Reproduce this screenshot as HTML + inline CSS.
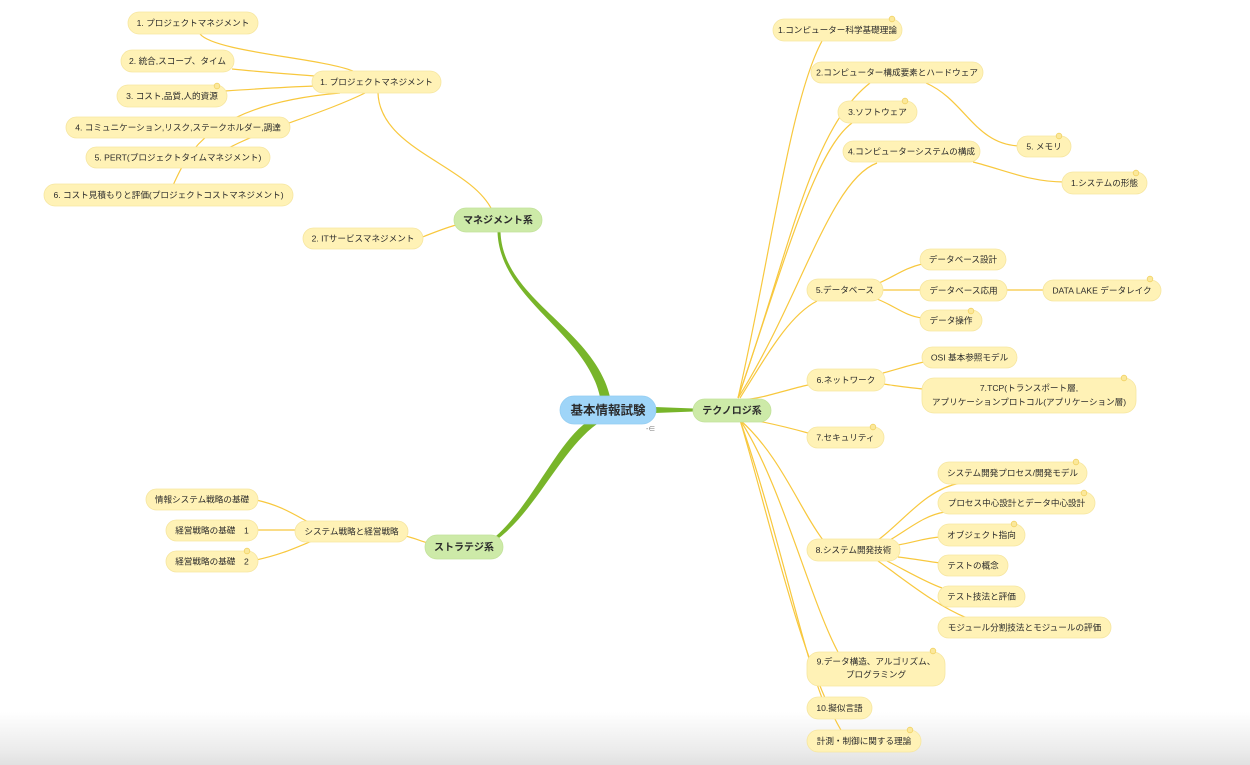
<!DOCTYPE html>
<html><head><meta charset="utf-8">
<style>
html,body{margin:0;padding:0;background:#fff;}
#wrap{position:relative;width:1250px;height:765px;overflow:hidden;background:#fff;}
#grad{position:absolute;left:0;top:712px;width:1250px;height:53px;background:linear-gradient(to bottom,rgba(255,255,255,0) 0%,#ececec 70%,#e1e1e1 100%);}
svg{position:absolute;left:0;top:0;}
text{font-family:"Liberation Sans","Noto Sans CJK JP",sans-serif;fill:#2b2b2b;}
.t{font-size:8.6px;}
.g{font-size:10px;font-weight:bold;}
.y{fill:#fff2b6;stroke:#f6e6a0;stroke-width:0.8;}
.gr{fill:#cdeaa8;stroke:#c2e29a;stroke-width:0.8;}
.l{fill:none;stroke:#f8c83e;stroke-width:1.2;}
.d{fill:#fbe89b;stroke:#f1d264;stroke-width:0.8;}
</style></head>
<body><div id="wrap">
<div id="grad"></div>
<svg width="1250" height="765" viewBox="0 0 1250 765" xmlns="http://www.w3.org/2000/svg">
<!-- green main connectors (tapered) -->
<path d="M497.5,232 C500,300 586,332 600,397 L610,397 C594,328 503,300 500.5,232 Z" fill="#78b52a"/>
<path d="M587,422 C557,443 533,503 496,536 L499,538 C537,508 562,449 597,424 Z" fill="#78b52a"/>
<path d="M655,407 L694,408.5 L694,411.5 L655,413 Z" fill="#78b52a"/>

<!-- yellow connectors : management -->
<path class="l" d="M200,34 C215,52 320,58 353,71"/>
<path class="l" d="M232,69 C260,72 290,74 315,76"/>
<path class="l" d="M225,91 C255,89 285,87 315,86"/>
<path class="l" d="M340,93 C200,105 185,160 170,192"/>
<path class="l" d="M365,93 C320,115 260,130 225,150"/>
<path class="l" d="M378,93 C380,150 470,165 492,210"/>
<path class="l" d="M420,238 C435,232 445,228 456,225"/>
<!-- strategy -->
<path class="l" d="M256,500 C280,505 295,515 310,523"/>
<path class="l" d="M256,530 L297,530"/>
<path class="l" d="M256,560 C280,555 295,548 312,541"/>
<path class="l" d="M405,536 C415,538 420,541 428,543"/>
<!-- technology fan -->
<path class="l" d="M738,398 C770,260 790,100 822,41"/>
<path class="l" d="M738,398 C790,250 810,130 870,83"/>
<path class="l" d="M738,398 C785,260 815,150 852,123"/>
<path class="l" d="M738,398 C800,300 830,180 877,163"/>
<path class="l" d="M740,398 C770,350 790,315 817,301"/>
<path class="l" d="M742,400 C765,398 785,390 808,385"/>
<path class="l" d="M742,418 C765,422 790,428 808,433"/>
<path class="l" d="M740,420 C780,455 800,510 823,540"/>
<path class="l" d="M740,420 C780,480 810,600 838,652"/>
<path class="l" d="M740,420 C775,520 800,640 822,698"/>
<path class="l" d="M740,420 C770,520 800,660 842,732"/>
<!-- tech sub -->
<path class="l" d="M926,83 C965,100 975,145 1020,146"/>
<path class="l" d="M973,162 C1005,170 1030,182 1064,182"/>
<path class="l" d="M879,283 C895,276 905,268 922,264"/>
<path class="l" d="M883,290 L922,290"/>
<path class="l" d="M1005,290 L1045,290"/>
<path class="l" d="M877,299 C895,306 905,316 922,318"/>
<path class="l" d="M883,373 C898,369 910,365 924,362"/>
<path class="l" d="M883,384 C898,386 910,388 924,389"/>
<path class="l" d="M878,540 C905,520 925,490 960,483"/>
<path class="l" d="M890,540 C910,528 925,515 945,512"/>
<path class="l" d="M898,545 C915,542 925,538 940,537"/>
<path class="l" d="M898,557 C915,559 925,561 940,563"/>
<path class="l" d="M887,561 C905,570 925,582 942,588"/>
<path class="l" d="M878,561 C905,580 935,605 967,618"/>

<!-- central -->
<rect x="560" y="396" width="96" height="28" rx="14" fill="#9fd5f8" stroke="#93cdf2" stroke-width="0.8"/>
<text x="608" y="414.5" text-anchor="middle" style="font-size:12.5px;font-weight:bold;">基本情報試験</text>
<text x="646" y="431" style="font-size:7px;fill:#777;">-∈</text>

<!-- green -->
<rect class="gr" x="454" y="208" width="88" height="24" rx="12"/>
<text class="g" x="498" y="223.5" text-anchor="middle">マネジメント系</text>
<rect class="gr" x="425" y="535" width="78" height="24" rx="12"/>
<text class="g" x="464" y="550.5" text-anchor="middle">ストラテジ系</text>
<rect class="gr" x="693" y="399" width="78" height="23" rx="11.5"/>
<text class="g" x="732" y="414" text-anchor="middle">テクノロジ系</text>

<!-- management nodes -->
<rect class="y" x="128" y="12" width="130" height="22" rx="11"/>
<text class="t" x="193" y="26" text-anchor="middle">1. プロジェクトマネジメント</text>
<rect class="y" x="121" y="50" width="113" height="22" rx="11"/>
<text class="t" x="177.5" y="64" text-anchor="middle">2. 統合,スコープ、タイム</text>
<rect class="y" x="117" y="85" width="110" height="22" rx="11"/>
<text class="t" x="172" y="99" text-anchor="middle">3. コスト,品質,人的資源</text>
<circle class="d" cx="217" cy="86" r="2.8"/>
<rect class="y" x="66" y="117" width="224" height="21" rx="10.5"/>
<text class="t" x="178" y="130.5" text-anchor="middle">4. コミュニケーション,リスク,ステークホルダー,調達</text>
<rect class="y" x="86" y="147" width="184" height="21" rx="10.5"/>
<text class="t" x="178" y="160.5" text-anchor="middle">5. PERT(プロジェクトタイムマネジメント)</text>
<rect class="y" x="44" y="184" width="249" height="22" rx="11"/>
<text class="t" x="168.5" y="198" text-anchor="middle">6. コスト見積もりと評価(プロジェクトコストマネジメント)</text>
<rect class="y" x="312" y="71" width="129" height="22" rx="11"/>
<text class="t" x="376.5" y="85" text-anchor="middle">1. プロジェクトマネジメント</text>
<rect class="y" x="303" y="228" width="120" height="21" rx="10.5"/>
<text class="t" x="363" y="241.5" text-anchor="middle">2. ITサービスマネジメント</text>

<!-- strategy nodes -->
<rect class="y" x="146" y="489" width="112" height="21" rx="10.5"/>
<text class="t" x="202" y="502.5" text-anchor="middle">情報システム戦略の基礎</text>
<rect class="y" x="166" y="520" width="92" height="21" rx="10.5"/>
<text class="t" x="212" y="533.5" text-anchor="middle">経営戦略の基礎　1</text>
<rect class="y" x="166" y="551" width="92" height="21" rx="10.5"/>
<text class="t" x="212" y="564.5" text-anchor="middle">経営戦略の基礎　2</text>
<circle class="d" cx="247" cy="551" r="2.8"/>
<rect class="y" x="295" y="521" width="113" height="21" rx="10.5"/>
<text class="t" x="351.5" y="534.5" text-anchor="middle">システム戦略と経営戦略</text>

<!-- technology nodes -->
<rect class="y" x="773" y="19" width="129" height="22" rx="11"/>
<text class="t" x="837.5" y="33" text-anchor="middle">1.コンピューター科学基礎理論</text>
<circle class="d" cx="892" cy="19" r="2.8"/>
<rect class="y" x="811" y="62" width="172" height="21" rx="10.5"/>
<text class="t" x="897" y="75.5" text-anchor="middle">2.コンピューター構成要素とハードウェア</text>
<rect class="y" x="838" y="101" width="79" height="22" rx="11"/>
<text class="t" x="877.5" y="115" text-anchor="middle">3.ソフトウェア</text>
<circle class="d" cx="905" cy="101" r="2.8"/>
<rect class="y" x="843" y="141" width="137" height="21" rx="10.5"/>
<text class="t" x="911.5" y="154.5" text-anchor="middle">4.コンピューターシステムの構成</text>
<rect class="y" x="1017" y="136" width="54" height="21" rx="10.5"/>
<text class="t" x="1044" y="149.5" text-anchor="middle">5. メモリ</text>
<circle class="d" cx="1059" cy="136" r="2.8"/>
<rect class="y" x="1062" y="172" width="85" height="22" rx="11"/>
<text class="t" x="1104.5" y="186" text-anchor="middle">1.システムの形態</text>
<circle class="d" cx="1136" cy="173" r="2.8"/>

<rect class="y" x="807" y="279" width="76" height="22" rx="11"/>
<text class="t" x="845" y="293" text-anchor="middle">5.データベース</text>
<rect class="y" x="920" y="249" width="86" height="21" rx="10.5"/>
<text class="t" x="963" y="262.5" text-anchor="middle">データベース設計</text>
<rect class="y" x="920" y="280" width="87" height="21" rx="10.5"/>
<text class="t" x="963.5" y="293.5" text-anchor="middle">データベース応用</text>
<rect class="y" x="1043" y="280" width="118" height="21" rx="10.5"/>
<text class="t" x="1102" y="293.5" text-anchor="middle">DATA LAKE データレイク</text>
<circle class="d" cx="1150" cy="279" r="2.8"/>
<rect class="y" x="920" y="310" width="62" height="21" rx="10.5"/>
<text class="t" x="951" y="323.5" text-anchor="middle">データ操作</text>
<circle class="d" cx="971" cy="311" r="2.8"/>

<rect class="y" x="807" y="369" width="78" height="22" rx="11"/>
<text class="t" x="846" y="383" text-anchor="middle">6.ネットワーク</text>
<rect class="y" x="922" y="347" width="95" height="21" rx="10.5"/>
<text class="t" x="969.5" y="360.5" text-anchor="middle">OSI 基本参照モデル</text>
<rect class="y" x="922" y="378" width="214" height="35" rx="12"/>
<text class="t" x="1029" y="391" text-anchor="middle">7.TCP(トランスポート層,</text>
<text class="t" x="1029" y="405" text-anchor="middle">アプリケーションプロトコル(アプリケーション層)</text>
<circle class="d" cx="1124" cy="378" r="2.8"/>

<rect class="y" x="807" y="427" width="77" height="21" rx="10.5"/>
<text class="t" x="845.5" y="440.5" text-anchor="middle">7.セキュリティ</text>
<circle class="d" cx="873" cy="427" r="2.8"/>

<rect class="y" x="807" y="539" width="93" height="22" rx="11"/>
<text class="t" x="853.5" y="553" text-anchor="middle">8.システム開発技術</text>
<rect class="y" x="938" y="462" width="149" height="22" rx="11"/>
<text class="t" x="1012.5" y="476" text-anchor="middle">システム開発プロセス/開発モデル</text>
<circle class="d" cx="1076" cy="462" r="2.8"/>
<rect class="y" x="938" y="492" width="157" height="22" rx="11"/>
<text class="t" x="1016.5" y="506" text-anchor="middle">プロセス中心設計とデータ中心設計</text>
<circle class="d" cx="1084" cy="493" r="2.8"/>
<rect class="y" x="938" y="524" width="87" height="22" rx="11"/>
<text class="t" x="981.5" y="538" text-anchor="middle">オブジェクト指向</text>
<circle class="d" cx="1014" cy="524" r="2.8"/>
<rect class="y" x="938" y="555" width="70" height="21" rx="10.5"/>
<text class="t" x="973" y="568.5" text-anchor="middle">テストの概念</text>
<rect class="y" x="938" y="586" width="87" height="21" rx="10.5"/>
<text class="t" x="981.5" y="599.5" text-anchor="middle">テスト技法と評価</text>
<rect class="y" x="938" y="617" width="173" height="21" rx="10.5"/>
<text class="t" x="1024.5" y="630.5" text-anchor="middle">モジュール分割技法とモジュールの評価</text>

<rect class="y" x="807" y="652" width="138" height="34" rx="12"/>
<text class="t" x="876" y="664.5" text-anchor="middle">9.データ構造、アルゴリズム、</text>
<text class="t" x="876" y="677.5" text-anchor="middle">プログラミング</text>
<circle class="d" cx="933" cy="651" r="2.8"/>
<rect class="y" x="807" y="697" width="65" height="22" rx="11"/>
<text class="t" x="839.5" y="711" text-anchor="middle">10.擬似言語</text>
<rect class="y" x="807" y="730" width="114" height="22" rx="11"/>
<text class="t" x="864" y="744" text-anchor="middle">計測・制御に関する理論</text>
<circle class="d" cx="910" cy="730" r="2.8"/>
</svg>
</div></body></html>
